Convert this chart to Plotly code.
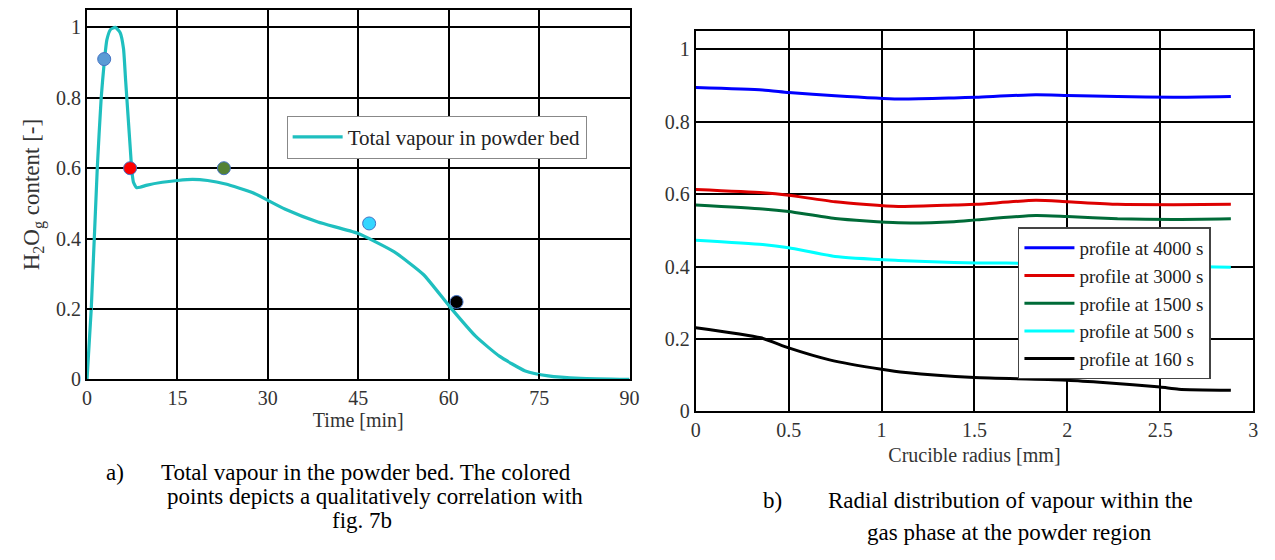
import plotly.graph_objects as go

# ---- Data: left panel (total vapour in powder bed) ----
time_min = [0, 0.7, 1.7, 2.35, 2.85, 3.3, 3.9, 4.7, 5.5, 6.05, 6.4, 6.8, 7.2, 7.4, 7.7, 8.2, 8.8,
            10, 12.5, 15, 17.5, 20, 23, 27.4, 32.8, 38.3, 44.9, 50.9, 55.8, 60.2, 64.5, 68.4,
            72.7, 76.5, 81.9, 90]
vapour_total = [0, 0.2, 0.6, 0.8, 0.9, 0.965, 0.994, 1.0, 0.985, 0.94, 0.85, 0.75, 0.65, 0.6, 0.56,
                0.545, 0.546, 0.552, 0.56, 0.565, 0.568, 0.565, 0.555, 0.531, 0.484, 0.447, 0.415,
                0.363, 0.298, 0.206, 0.122, 0.066, 0.024, 0.01, 0.003, 0.0]

point_t = [2.85, 7.15, 22.7, 46.8, 61.3]
point_v = [0.91, 0.60, 0.60, 0.443, 0.22]
point_colors = ["#5b9bd5", "#ff0000", "#548235", "#33d6ff", "#000000"]

# ---- Data: right panel (radial distribution) ----
radius = [0, 0.36, 0.5, 0.75, 1.09, 1.39, 1.51, 1.83, 2.0, 2.27, 2.57, 2.88]
prof_4000 = [0.895, 0.888, 0.881, 0.872, 0.863, 0.866, 0.868, 0.875, 0.873, 0.870, 0.868, 0.870]
prof_3000 = [0.613, 0.604, 0.597, 0.579, 0.566, 0.570, 0.572, 0.583, 0.579, 0.572, 0.571, 0.572]
prof_1500 = [0.570, 0.559, 0.552, 0.533, 0.521, 0.524, 0.529, 0.541, 0.538, 0.532, 0.530, 0.532]
prof_500 = [0.473, 0.461, 0.452, 0.428, 0.417, 0.411, 0.410, 0.409, 0.407, 0.404, 0.401, 0.398]
radius_160 = [0, 0.35, 0.5, 0.72, 1.0, 1.13, 1.5, 2.0, 2.21, 2.5, 2.6, 2.88]
prof_160 = [0.231, 0.203, 0.175, 0.142, 0.116, 0.107, 0.093, 0.086, 0.079, 0.067, 0.061, 0.058]

profiles = [
    ("profile at 4000 s", radius, prof_4000, "#0000ff"),
    ("profile at 3000 s", radius, prof_3000, "#dd0000"),
    ("profile at 1500 s", radius, prof_1500, "#006b38"),
    ("profile at 500 s", radius, prof_500, "#00ffff"),
    ("profile at 160 s", radius_160, prof_160, "#000000"),
]

left_xticks = [0, 15, 30, 45, 60, 75, 90]
right_xticks = [0, 0.5, 1, 1.5, 2, 2.5, 3]
right_xticklabels = ["0", "0.5", "1", "1.5", "2", "2.5", "3"]
yticks = [0, 0.2, 0.4, 0.6, 0.8, 1]
yticklabels = ["0", "0.2", "0.4", "0.6", "0.8", "1"]

FONT = "Liberation Serif, Times New Roman, serif"
W, H = 1275, 560

fig = go.Figure()

fig.add_trace(go.Scatter(x=time_min, y=vapour_total, mode="lines", line_shape="spline",
                         line=dict(color="#1fbfbf", width=3.2, smoothing=0.5),
                         name="Total vapour in powder bed",
                         xaxis="x", yaxis="y", legend="legend"))
for t, v, c in zip(point_t, point_v, point_colors):
    fig.add_trace(go.Scatter(x=[t], y=[v], mode="markers",
                             marker=dict(size=13, color=c, line=dict(color="#4472c4", width=1)),
                             showlegend=False, xaxis="x", yaxis="y"))

for name, r, v, c in profiles:
    fig.add_trace(go.Scatter(x=r, y=v, mode="lines", line_shape="spline",
                             line=dict(color=c, width=3, smoothing=0.6),
                             name=name, xaxis="x2", yaxis="y2", legend="legend2"))

axis_common = dict(showline=True, mirror="ticks", linecolor="black", linewidth=2,
                   showgrid=True, gridcolor="black", gridwidth=1.5, zeroline=False,
                   ticks="inside", ticklen=5, tickwidth=1.5, tickcolor="black",
                   tickfont=dict(family=FONT, size=20, color="#333333"))

title_font = dict(family=FONT, size=20, color="#333333")

fig.update_layout(
    width=W, height=H, margin=dict(l=0, r=0, t=0, b=0),
    paper_bgcolor="white", plot_bgcolor="white",
    font=dict(family=FONT, color="#222222"),
    xaxis=dict(domain=[83 / W, 632 / W], range=[0, 90], tickvals=left_xticks,
               title=dict(text="Time [min]", font=title_font, standoff=2),
               anchor="y", **axis_common),
    yaxis=dict(domain=[1 - 387 / H, 1 - 10 / H], range=[0, 1.05], tickvals=yticks, ticktext=yticklabels,
               title=dict(text="H<sub>2</sub>O<sub>g</sub> content [-]",
                          font=dict(family=FONT, size=23, color="#333333"), standoff=10),
               anchor="x", **axis_common),
    xaxis2=dict(domain=[699 / W, 1263 / W], range=[0, 3], tickvals=right_xticks, ticktext=right_xticklabels,
                title=dict(text="Crucible radius [mm]", font=title_font, standoff=8),
                anchor="y2", **axis_common),
    yaxis2=dict(domain=[1 - 419.5 / H, 1 - 32 / H], range=[0, 1.05], tickvals=yticks, ticktext=yticklabels,
                anchor="x2", **axis_common),
    legend=dict(x=285 / W, y=1 - 118 / H, xanchor="left", yanchor="top",
                bgcolor="white", bordercolor="#888888", borderwidth=1,
                font=dict(family=FONT, size=21, color="#222222"), itemwidth=50),
    legend2=dict(x=1025 / W, y=1 - 232 / H, xanchor="left", yanchor="top",
                 bgcolor="white", bordercolor="#444444", borderwidth=1.5,
                 font=dict(family=FONT, size=19, color="#222222"), itemwidth=50),
    showlegend=True,
)

cap_font = dict(family=FONT, size=23, color="#000000")
captions = [
    ("a)", 100, 482, "left"),
    ("Total vapour in the powder bed. The colored", 365, 482, "center"),
    ("points depicts a qualitatively correlation with", 374, 506, "center"),
    ("fig. 7b", 361, 531, "center"),
    ("b)", 765, 511, "left"),
    ("Radial distribution of vapour within the", 1017, 511, "center"),
    ("gas phase at the powder region", 1016, 543, "center"),
]
for text, x, y, anchor in captions:
    fig.add_annotation(text=text, x=x / W, y=1 - y / H, xref="paper", yref="paper",
                       xanchor=anchor, yanchor="middle", showarrow=False, font=cap_font)

fig.write_html("out.html")
